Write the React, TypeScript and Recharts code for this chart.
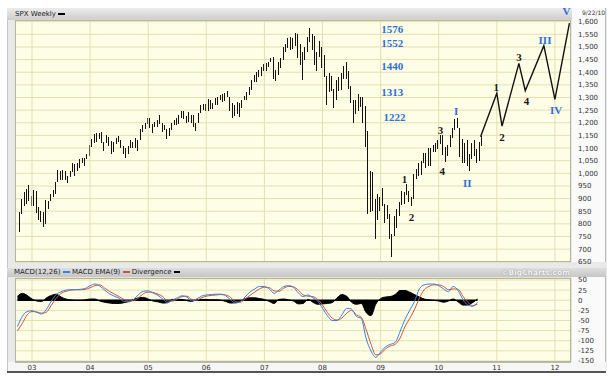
import React from "react";
import {
  ComposedChart,
  Bar,
  Line,
  Area,
  Scatter,
  XAxis,
  YAxis,
  CartesianGrid,
  ReferenceLine,
} from "recharts";

// x domain (fractional years) and tick years
const T0 = 2002.707;
const T1 = 2012.277;
const yearTicks = [2003, 2004, 2005, 2006, 2007, 2008, 2009, 2010, 2011, 2012];
const priceTicks = [650, 700, 750, 800, 850, 900, 950, 1000, 1050, 1100, 1150, 1200, 1250, 1300, 1350, 1400, 1450, 1500, 1550, 1600];
const macdTicks = [-150, -125, -100, -75, -50, -25, 0, 25, 50];

// SPX, half-month [high, low]; 2002 starts in October, 2010 ends 9/22
const spx2002: [number, number][] = [[848, 768], [900, 840], [925, 870], [938, 880], [954, 890], [912, 870]];
const spx2003: [number, number][] = [
  [935, 870], [930, 844], [866, 817], [852, 806], [845, 789], [895, 800], [890, 858], [920, 890],
  [935, 905], [965, 920], [1015, 965], [1010, 975], [1015, 975], [1010, 975], [990, 960], [1010, 985],
  [1040, 1005], [1035, 990], [1040, 1010], [1055, 1020], [1060, 1040], [1060, 1030], [1075, 1055], [1112, 1070],
];
const spx2004: [number, number][] = [
  [1135, 1105], [1155, 1120], [1160, 1125], [1160, 1135], [1163, 1120], [1125, 1087], [1150, 1120], [1145, 1107],
  [1128, 1076], [1125, 1085], [1140, 1115], [1146, 1125], [1130, 1100], [1110, 1078], [1100, 1060], [1110, 1075],
  [1130, 1100], [1125, 1100], [1140, 1100], [1130, 1090], [1175, 1130], [1190, 1165], [1200, 1175], [1217, 1195],
];
const spx2005: [number, number][] = [
  [1217, 1180], [1195, 1160], [1205, 1185], [1212, 1185], [1229, 1195], [1200, 1163], [1191, 1170], [1175, 1137],
  [1180, 1147], [1200, 1170], [1210, 1190], [1219, 1190], [1230, 1195], [1245, 1220], [1245, 1215], [1225, 1200],
  [1243, 1205], [1230, 1201], [1230, 1185], [1200, 1168], [1240, 1200], [1270, 1240], [1275, 1250], [1275, 1245],
];
const spx2006: [number, number][] = [
  [1295, 1245], [1290, 1255], [1280, 1253], [1297, 1270], [1300, 1270], [1310, 1290], [1315, 1282], [1318, 1285],
  [1326, 1300], [1300, 1245], [1280, 1219], [1270, 1225], [1283, 1235], [1280, 1224], [1290, 1260], [1305, 1290],
  [1320, 1290], [1340, 1310], [1370, 1330], [1389, 1360], [1400, 1360], [1410, 1380], [1420, 1385], [1431, 1405],
];
const spx2007: [number, number][] = [
  [1435, 1405], [1441, 1420], [1455, 1440], [1461, 1374], [1410, 1364], [1440, 1390], [1455, 1416], [1498, 1450],
  [1512, 1480], [1535, 1495], [1540, 1487], [1535, 1490], [1556, 1505], [1550, 1455], [1510, 1430], [1480, 1370],
  [1500, 1450], [1538, 1480], [1576, 1520], [1550, 1489], [1545, 1430], [1480, 1406], [1523, 1460], [1500, 1415],
];
const spx2008: [number, number][] = [
  [1470, 1380], [1385, 1270], [1396, 1320], [1385, 1325], [1335, 1257], [1370, 1290], [1380, 1325], [1397, 1330],
  [1425, 1373], [1440, 1375], [1405, 1335], [1345, 1278], [1290, 1200], [1292, 1235], [1313, 1247], [1300, 1263],
  [1303, 1200], [1265, 1106], [1167, 839], [1010, 845], [1007, 850], [900, 741], [919, 815], [905, 850],
];
const spx2009: [number, number][] = [
  [943, 870], [880, 804], [875, 820], [840, 741], [760, 667], [832, 750], [860, 783], [888, 830],
  [930, 875], [925, 879], [956, 915], [930, 888], [905, 869], [996, 900], [1018, 978], [1039, 990],
  [1050, 992], [1080, 1040], [1080, 1020], [1101, 1030], [1100, 1029], [1113, 1085], [1120, 1085], [1130, 1095],
];
const spx2010: [number, number][] = [
  [1150, 1115], [1150, 1071], [1104, 1044], [1112, 1070], [1150, 1105], [1180, 1140], [1214, 1170], [1220, 1180],
  [1180, 1066], [1135, 1040], [1120, 1040], [1131, 1028], [1075, 1011], [1120, 1055], [1130, 1070], [1095, 1040],
  [1125, 1049], [1148, 1110],
];

// projected wave path
const waveT = [2010.72, 2011.0, 2011.09, 2011.38, 2011.49, 2011.81, 2012.0, 2012.25];
const waveP = [1145, 1317, 1187, 1435, 1327, 1505, 1293, 1594];

// annotations
const levelText = ["1576", "1552", "1440", "1313", "1222"];
const levelT = [2009.2, 2009.2, 2009.2, 2009.2, 2009.24];
const levelP = [1570, 1517, 1425, 1323, 1222];
const blueWaveText = ["I", "II", "III", "IV"];
const blueWaveT = [2010.3, 2010.49, 2011.83, 2012.02];
const blueWaveP = [1247, 962, 1528, 1250];
const blackWaveText = ["1", "2", "3", "4", "1", "2", "3", "4"];
const blackWaveT = [2009.41, 2009.53, 2010.03, 2010.06, 2010.99, 2011.09, 2011.38, 2011.51];
const blackWaveP = [977, 827, 1171, 1009, 1342, 1144, 1460, 1286];

// MACD, monthly from Oct 2002 to Sep 2010
const macdLine = [
  -65, -40, -28,
  -26, -30, -34, -22, -2, 14, 21, 25, 26, 26, 27, 29,
  36, 40, 35, 25, 16, 10, 5, -3, -4, 2, 14, 22,
  23, 18, 12, 3, -6, 0, 6, 11, 8, -2, 3, 10,
  13, 14, 15, 15, 11, 1, -7, -4, 8, 20, 28, 34,
  34, 28, 17, 25, 34, 36, 32, 18, 9, 13, 6, -2,
  -20, -38, -50, -50, -36, -20, -22, -40, -45, -94, -125, -141,
  -128, -115, -109, -104, -78, -48, -25, -3, 28, 38, 40, 40,
  36, 28, 21, 34, 24, 2, -12, -15, -5,
];
const emaLine = [
  -75, -57, -36,
  -28, -29, -32, -29, -12, 5, 17, 22, 25, 26, 26, 27,
  31, 36, 38, 30, 22, 15, 9, 2, -2, -1, 6, 16,
  20, 19, 15, 9, -2, -2, 3, 9, 10, 2, 0, 6,
  10, 12, 13, 14, 13, 7, -3, -5, 3, 12, 20, 28,
  32, 31, 23, 22, 30, 34, 33, 25, 13, 10, 9, 2,
  -12, -30, -44, -49, -44, -32, -25, -36, -42, -72, -108, -135,
  -132, -120, -113, -109, -94, -66, -45, -23, 5, 26, 34, 38,
  38, 34, 26, 28, 27, 10, -5, -13, -10,
];
const divergence = [
  10, 17, 12,
  3, -2, -3, 6, 12, 15, 8, 3, 1, 0, 0, 1,
  3, 3, -2, -5, -7, -8, -8, -6, -3, 2, 6, 7,
  3, -2, -4, -7, -6, 2, 2, 2, -1, -3, 2, 2,
  2, 1, 1, 0, -3, -7, -6, -2, 4, 6, 6, 4,
  2, -3, -8, 2, 3, 1, -2, -9, -8, 2, -5, -10,
  -9, -8, -6, 6, 14, 10, -5, -10, -8, -30, -38, -10,
  4, 8, 9, 14, 24, 24, 20, 14, 8, 3, 1, 0,
  -2, -5, -2, 3, -4, -12, -12, -6, 3,
];

const spxYears: [number, number, [number, number][]][] = [
  [2002, 18, spx2002], [2003, 0, spx2003], [2004, 0, spx2004], [2005, 0, spx2005], [2006, 0, spx2006],
  [2007, 0, spx2007], [2008, 0, spx2008], [2009, 0, spx2009], [2010, 0, spx2010],
];
const priceRows = spxYears.flatMap(([yr, k0, arr]) =>
  arr.map(([hi, lo], i) => ({ t: yr + (k0 + i + 0.5) / 24, range: [lo, hi] }))
);
const waveRows = waveT.map((t, i) => ({ t, p: waveP[i] }));
const levelRows = levelT.map((t, i) => ({ t, p: levelP[i], text: levelText[i] }));
const blueRows = blueWaveT.map((t, i) => ({ t, p: blueWaveP[i], text: blueWaveText[i] }));
const blackRows = blackWaveT.map((t, i) => ({ t, p: blackWaveP[i], text: blackWaveText[i] }));
const macdRows = macdLine.map((m, i) => ({
  t: 2002 + (9 + i) / 12,
  macd: m,
  ema: emaLine[i],
  div: divergence[i],
}));

const GRID = "#e3dfb3";
const PLOT_BG = "#fefee6";
const BLUE = "#2f6fd6";
const axisTick = { fontSize: 7, fill: "#333", fontFamily: "DejaVu Sans" };

const makeText = (color: string) => (props: any) => (
  <text
    x={props.cx}
    y={props.cy}
    textAnchor="middle"
    dominantBaseline="central"
    fontFamily="Liberation Serif"
    fontWeight="bold"
    fontSize={11}
    fill={color}
  >
    {props.payload.text}
  </text>
);

// thin high-low bar, drawn crisp
const PriceBar = (props: any) => {
  const { x, y, width, height } = props;
  if (x == null || y == null || height == null) return null;
  const cx = Math.round(x + width / 2);
  const top = Math.min(y, y + height);
  return (
    <rect x={cx} y={top} width={1} height={Math.max(Math.abs(height), 1)} fill="#111" shapeRendering="crispEdges" />
  );
};

const renderLastLabel = (props: any) =>
  props.index === waveP.length - 1 ? (
    <text
      key="v"
      x={props.x - 3}
      y={props.y - 8}
      textAnchor="middle"
      fontFamily="Liberation Serif"
      fontWeight="bold"
      fontSize={11}
      fill={BLUE}
    >
      V
    </text>
  ) : null;

const abs = (s: React.CSSProperties): React.CSSProperties => ({ position: "absolute", ...s });

export default function App() {
  return (
    <div style={abs({ left: 0, top: 0, width: 612, height: 387, background: "#fff", fontFamily: "DejaVu Sans" })}>
      {/* frame */}
      <div style={abs({ left: 7, top: 8, width: 599, height: 363, background: "#e9e9e9", borderLeft: "1px solid #c4c4c4" })} />
      <div style={abs({ left: 7, top: 8, width: 565, height: 12, background: "linear-gradient(#ececec, #cdcdcd)" })} />
      <div style={abs({ left: 572, top: 8, width: 33, height: 254, background: "#fafafa", borderRight: "1px solid #bbb" })} />
      <div style={abs({ left: 7, top: 268, width: 599, height: 9, background: "linear-gradient(#dedede, #c6c6c6)" })} />
      <div style={abs({ left: 572, top: 277, width: 33, height: 86, background: "#fafafa", borderRight: "1px solid #bbb" })} />
      <div style={abs({ left: 8, top: 362, width: 598, height: 9, background: "#f6f6f6" })} />
      <div style={abs({ left: 7, top: 371, width: 599, height: 2, background: "#555" })} />

      {/* headers */}
      <div style={abs({ left: 15, top: 9, fontSize: 7, color: "#222", whiteSpace: "nowrap", lineHeight: "10px" })}>
        SPX Weekly <span style={{ display: "inline-block", width: 7, height: 2, background: "#000", verticalAlign: "middle" }} />
      </div>
      <div style={abs({ left: 582, top: 9, fontSize: 6, color: "#333", lineHeight: "8px" })}>9/22/10</div>
      <div style={abs({ left: 14, top: 268, fontSize: 7, color: "#222", whiteSpace: "nowrap", lineHeight: "9px" })}>
        MACD(12,26) <span style={{ display: "inline-block", width: 7, height: 1.5, background: "#3b7fe0", verticalAlign: "middle" }} /> MACD EMA(9){" "}
        <span style={{ display: "inline-block", width: 7, height: 1.5, background: "#c8553d", verticalAlign: "middle" }} /> Divergence{" "}
        <span style={{ display: "inline-block", width: 6, height: 2, background: "#000", verticalAlign: "middle" }} />
      </div>
      <div
        style={abs({
          left: 500,
          top: 268,
          width: 70,
          textAlign: "right",
          fontSize: 7.5,
          fontWeight: "bold",
          color: "#f4f4f4",
          lineHeight: "9px",
          textShadow: "0 0 1px #777",
        })}
      >
        ©BigCharts.com
      </div>

      {/* price panel */}
      <div style={abs({ left: 15, top: 0 })}>
        <ComposedChart width={591} height={268} data={priceRows} margin={{ top: 20, right: 0, bottom: 6, left: 0 }}>
          <CartesianGrid stroke={GRID} fill={PLOT_BG} vertical={false} />
          <XAxis type="number" dataKey="t" domain={[T0, T1]} ticks={yearTicks} hide />
          <YAxis
            orientation="right"
            width={35}
            domain={[649, 1606.7]}
            ticks={priceTicks}
            tickFormatter={(v: number) => v.toLocaleString("en-US")}
            tick={{ ...axisTick, textAnchor: "start" }}
            axisLine={false}
            tickLine={false}
            tickSize={0}
            tickMargin={7}
            interval={0}
          />
          {yearTicks.map((y) => (
            <ReferenceLine key={y} x={y} stroke={GRID} />
          ))}
          <Bar dataKey="range" barSize={1} shape={PriceBar} isAnimationActive={false} />
          <Line
            data={waveRows}
            dataKey="p"
            type="linear"
            stroke="#111"
            strokeWidth={1.4}
            dot={false}
            isAnimationActive={false}
            label={renderLastLabel}
          />
          <Scatter data={levelRows} dataKey="p" shape={makeText(BLUE)} isAnimationActive={false} />
          <Scatter data={blueRows} dataKey="p" shape={makeText(BLUE)} isAnimationActive={false} />
          <Scatter data={blackRows} dataKey="p" shape={makeText("#1a1a1a")} isAnimationActive={false} />
        </ComposedChart>
      </div>
      <div style={abs({ left: 15, top: 20, width: 556, height: 242, border: "1px solid #b5b5a0", boxSizing: "border-box", pointerEvents: "none" })} />

      {/* MACD panel */}
      <div style={abs({ left: 15, top: 272 })}>
        <ComposedChart width={591} height={100} data={macdRows} margin={{ top: 6, right: 0, bottom: 0, left: 0 }}>
          <CartesianGrid stroke={GRID} fill={PLOT_BG} />
          <XAxis
            type="number"
            dataKey="t"
            domain={[T0, T1]}
            ticks={yearTicks}
            interval={0}
            height={10}
            tickFormatter={(v: number) => String(v).slice(2)}
            tick={axisTick}
            axisLine={{ stroke: "#888" }}
            tickLine={false}
            tickSize={0}
            tickMargin={3}
          />
          <YAxis
            orientation="right"
            width={35}
            domain={[-152.5, 54.9]}
            ticks={macdTicks}
            tick={{ ...axisTick, textAnchor: "start" }}
            axisLine={false}
            tickLine={false}
            tickSize={0}
            tickMargin={7}
            interval={0}
          />
          <Area
            dataKey="div"
            type="monotone"
            baseValue={0}
            fill="#000"
            fillOpacity={1}
            stroke="#000"
            strokeWidth={1}
            isAnimationActive={false}
          />
          <ReferenceLine
            segment={[
              { x: macdRows[0].t, y: 0 },
              { x: macdRows[macdRows.length - 1].t, y: 0 },
            ]}
            stroke="#000"
            strokeWidth={1.5}
          />
          <Line dataKey="ema" type="monotone" stroke="#c8553d" strokeWidth={1} dot={false} isAnimationActive={false} />
          <Line dataKey="macd" type="monotone" stroke="#3b7fe0" strokeWidth={1} dot={false} isAnimationActive={false} />
        </ComposedChart>
      </div>
      <div style={abs({ left: 15, top: 278, width: 556, height: 84, border: "1px solid #b5b5a0", boxSizing: "border-box", pointerEvents: "none" })} />
    </div>
  );
}
